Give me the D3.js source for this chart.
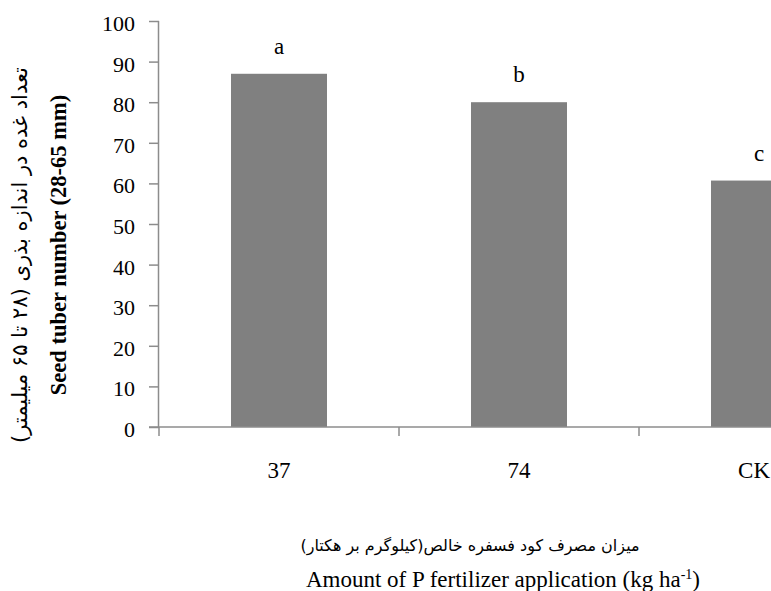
<!DOCTYPE html>
<html>
<head>
<meta charset="utf-8">
<script src="https://cdn.jsdelivr.net/npm/d3@7"></script>
<style>
html,body{margin:0;padding:0;background:#fff;overflow:hidden;}
svg{display:block;}
svg text{font-family:"Liberation Serif","Times New Roman",serif;fill:#000;}
svg text.ytl{font-size:22px;}
</style>
</head>
<body>
<svg id="chart" width="771" height="591"></svg>
<script>
const categories = ["37", "74", "CK"];
const values = [87, 80, 60.7];
const letters = ["a", "b", "c"];
const yTicks = [0, 10, 20, 30, 40, 50, 60, 70, 80, 90, 100];
const yTitleEn = "Seed tuber number (28-65 mm)";
const yTitleFa = "تعداد غده در اندازه بذری (۲۸ تا ۶۵ میلیمتر)";
const xTitleFa = "میزان مصرف کود فسفره خالص(کیلوگرم بر هکتار)";
const xTitleEn = "Amount of P fertilizer application (kg ha";

const W = 771;
const svg = d3.select("#chart");
const x0 = 159, yBase = 427, yTop = 21;
const x = d3.scaleBand().domain(categories).range([x0, x0 + 240 * categories.length]).paddingInner(0.6).paddingOuter(0.3);
const y = d3.scaleLinear().domain([0, 100]).range([yBase, yTop]);
const axisColor = "#8c8c8c";

// bars
svg.selectAll("rect.bar").data(values).join("rect")
  .attr("class", "bar")
  .attr("x", (d, i) => x(categories[i]))
  .attr("width", x.bandwidth())
  .attr("y", d => y(d))
  .attr("height", d => y(0) - y(d))
  .attr("fill", "#808080");

// y axis (ticks via d3 axis, labels drawn from the same scale)
const yAxis = svg.append("g").attr("transform", `translate(${x0},0)`)
  .call(d3.axisLeft(y).tickValues(yTicks).tickSize(10).tickFormat(""));
yAxis.select(".domain").attr("stroke", axisColor).attr("stroke-width", 1.5).attr("d", `M-0.5,${yBase}V${yTop}`);
yAxis.selectAll(".tick line").attr("stroke", axisColor).attr("stroke-width", 1.5);
svg.append("g").selectAll("text").data(yTicks).join("text")
  .attr("class", "ytl")
  .attr("x", x0 - 24)
  .attr("y", d => y(d) + 10)
  .attr("text-anchor", "end")
  .attr("font-size", 22)
  .text(d => d3.format("d")(d));

// x axis
const xAxisG = svg.append("g").attr("transform", `translate(0,${yBase})`);
xAxisG.append("line").attr("x1", x0 - 10).attr("x2", W).attr("y1", 0).attr("y2", 0)
  .attr("stroke", axisColor).attr("stroke-width", 1.5);
const boundaries = categories.map((c, i) => x0 + x.step() * (i + 1)).concat([x0]);
xAxisG.selectAll("line.xt").data(boundaries).join("line").attr("class", "xt")
  .attr("x1", d => d).attr("x2", d => d).attr("y1", 0).attr("y2", 9)
  .attr("stroke", axisColor).attr("stroke-width", 1.5);
xAxisG.selectAll("text.xl").data(categories).join("text").attr("class", "xl")
  .attr("x", d => x(d) + x.bandwidth() / 2).attr("y", 51)
  .attr("text-anchor", "middle").style("font-size", "23px").text(d => d)
  .each(function () {
    const t = d3.select(this);
    const w = this.getComputedTextLength();
    const cx = +t.attr("x");
    if (cx + w / 2 > W - 1) t.attr("x", W - 1 - w / 2);
  });

// letters
svg.selectAll("text.let").data(values).join("text").attr("class", "let")
  .attr("x", (d, i) => x(categories[i]) + x.bandwidth() / 2)
  .attr("y", d => y(d) - 20)
  .attr("text-anchor", "middle").style("font-size", "23px").text((d, i) => letters[i]);

// y titles
svg.append("text").attr("transform", "translate(66,245) rotate(-90)")
  .attr("text-anchor", "middle").style("font-size", "22.5px").attr("font-weight", "bold").text(yTitleEn);
svg.append("text").attr("transform", "translate(27,255) rotate(-90)")
  .attr("text-anchor", "middle").style("font-size", "21px").attr("direction", "rtl")
  .style("font-family", "'DejaVu Sans','Noto Sans',sans-serif").text(yTitleFa);

// x titles
svg.append("text").attr("x", 470).attr("y", 551).attr("text-anchor", "middle")
  .style("font-size", "16px").attr("direction", "rtl")
  .style("font-family", "'DejaVu Sans','Noto Sans',sans-serif").text(xTitleFa);
const xt = svg.append("text").attr("x", 503).attr("y", 587).attr("text-anchor", "middle").style("font-size", "23px");
xt.append("tspan").text(xTitleEn);
xt.append("tspan").attr("dy", -8).style("font-size", "14px").text("-1");
xt.append("tspan").attr("dy", 8).text(")");
</script>
</body>
</html>
